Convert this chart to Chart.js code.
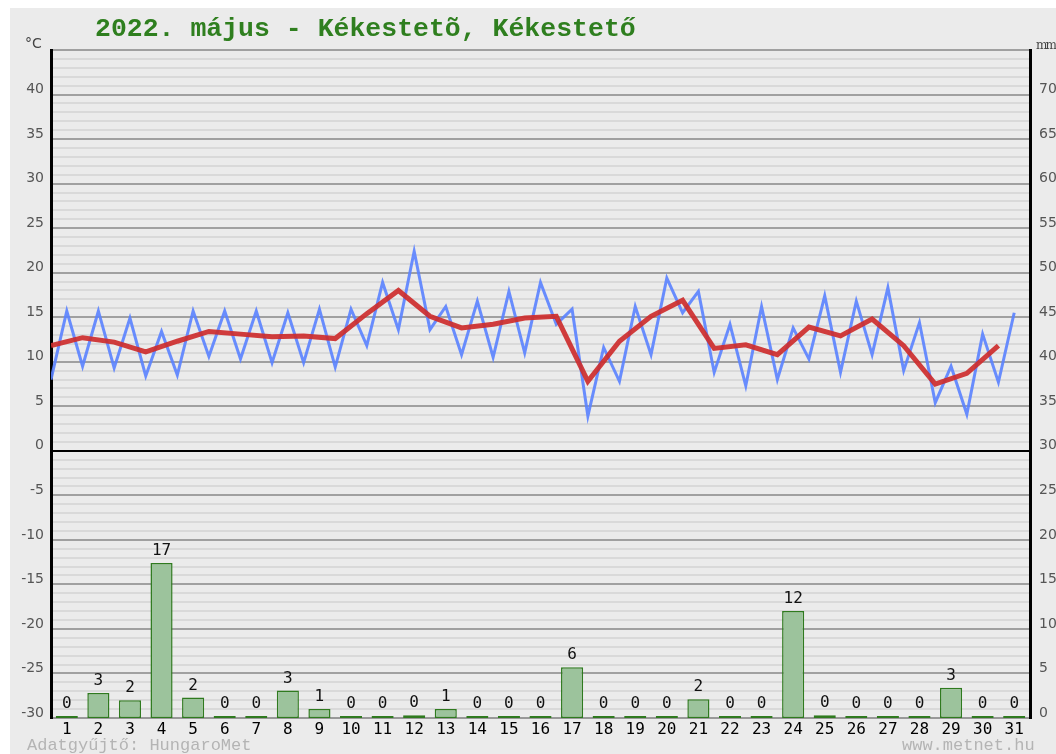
<!DOCTYPE html>
<html>
<head>
<meta charset="utf-8">
<script src="https://cdn.jsdelivr.net/npm/chart.js@4"></script>
<style>
  body { margin: 0; background: #fff; }
  #wrap { position: relative; width: 1056px; height: 754px; overflow: hidden; }
  #bg { position: absolute; left: 10px; top: 8px; right: 0; bottom: 0; background: #ebebeb; }
  #chart { position: absolute; left: 0; top: 0; }
  .txt { position: absolute; white-space: nowrap; }
  #title { left: 95px; top: 16px; font: bold 26.5px "Liberation Mono", monospace; color: #2f7f1f; line-height: 26px; }
  #unitC { left: 25px; top: 35px; font: 14px "DejaVu Sans", sans-serif; color: #444; }
  #unitMm { left: 1036px; top: 38px; font: 12px "DejaVu Serif", serif; color: #444; letter-spacing: -2px; }
  #src { left: 27px; top: 736px; font: 17px "Liberation Mono", monospace; color: #b4b4b4; }
  #web { left: 902px; top: 736px; font: 17px "Liberation Mono", monospace; color: #b4b4b4; }
</style>
</head>
<body>
<div id="wrap">
  <div id="bg"></div>
  <canvas id="chart" width="1056" height="754"></canvas>
  <div class="txt" id="title">2022. május - Kékestetõ, Kékestető</div>
  <div class="txt" id="unitC">°C</div>
  <div class="txt" id="unitMm">mm</div>
  <div class="txt" id="src">Adatgyűjtő: HungaroMet</div>
  <div class="txt" id="web">www.metnet.hu</div>
</div>
<script>
// days of the month
const days = ['1','2','3','4','5','6','7','8','9','10','11','12','13','14','15','16',
  '17','18','19','20','21','22','23','24','25','26','27','28','29','30','31'];

// daily minimum (drawn at start of day) and maximum (drawn at mid day), °C
const tMin = [8.0, 9.5, 9.3, 8.4, 8.5, 10.6, 10.3, 9.9, 9.9, 9.4, 11.8, 13.6, 13.6, 10.8, 10.5, 11.0,
  14.2, 3.9, 7.8, 10.8, 15.5, 8.8, 7.3, 8.0, 10.3, 8.8, 10.8, 9.0, 5.4, 4.1, 7.7];
const tMax = [15.7, 15.7, 14.9, 13.4, 15.7, 15.7, 15.7, 15.5, 15.9, 15.9, 18.9, 22.4, 16.2, 16.8, 17.9, 18.9,
  15.9, 11.6, 16.2, 19.4, 17.9, 14.2, 16.2, 13.8, 17.4, 16.8, 18.3, 14.4, 9.5, 13.1, 15.5];

// daily mean temperature, °C
const tAvg = [11.8, 12.7, 12.2, 11.1, 12.3, 13.4, 13.1, 12.8, 12.9, 12.6, 15.4, 18.0, 15.1, 13.8, 14.2, 14.9,
  15.1, 7.8, 12.3, 15.1, 16.9, 11.5, 11.9, 10.8, 13.9, 12.9, 14.8, 11.8, 7.5, 8.7, 11.8];

// daily precipitation, mm
const rain = [0, 2.8, 2.0, 17.4, 2.3, 0, 0, 3.1, 1.0, 0, 0, 0.3, 1.0, 0, 0, 0,
  5.7, 0, 0, 0, 2.1, 0, 0, 12.0, 0.3, 0, 0, 0, 3.4, 0, 0];

// Step 1: points on one linear x axis (day i spans i..i+1)
var minMaxPoints = [];
for (let i = 0; i < days.length; i++) {
  minMaxPoints.push({ x: i, y: tMin[i] });
  minMaxPoints.push({ x: i + 0.5, y: tMax[i] });
}
var avgPoints = tAvg.map((v, i) => ({ x: i, y: v }));
var rainPoints = rain.map((v, i) => ({ x: i + 0.5, y: v }));

// Step 2: value labels above the bars
const barLabels = {
  id: 'barLabels',
  afterDatasetsDraw(chart) {
    const ctx = chart.ctx;
    const meta = chart.getDatasetMeta(2);
    ctx.save();
    ctx.font = '16px "DejaVu Sans Mono", monospace';
    ctx.fillStyle = '#111';
    ctx.textAlign = 'center';
    ctx.textBaseline = 'bottom';
    meta.data.forEach((bar, i) => {
      ctx.fillText(String(Math.round(rain[i])), bar.x, Math.min(bar.y, bar.base) - 4);
    });
    ctx.restore();
  }
};

// Step 3: chart
var ctx = document.getElementById('chart').getContext('2d');
var myChart = new Chart(ctx, {
  type: 'line',
  data: {
    datasets: [
      {
        type: 'line',
        data: avgPoints,
        yAxisID: 'y',
        borderColor: 'rgba(205, 45, 45, 0.92)',
        borderWidth: 5,
        pointRadius: 0,
        tension: 0,
        order: 1
      },
      {
        type: 'line',
        data: minMaxPoints,
        yAxisID: 'y',
        borderColor: 'rgba(90, 130, 255, 0.9)',
        borderWidth: 3,
        pointRadius: 0,
        tension: 0,
        order: 2
      },
      {
        type: 'bar',
        data: rainPoints,
        yAxisID: 'y2',
        backgroundColor: '#9cc39c',
        borderColor: '#2f7a1f',
        borderWidth: 1.5,
        borderSkipped: false,
        minBarLength: 2,
        barPercentage: 0.7,
        categoryPercentage: 1,
        order: 3
      }
    ]
  },
  options: {
    responsive: false,
    animation: false,
    layout: { padding: { top: 50, left: 0, right: 0, bottom: 0 } },
    plugins: {
      legend: { display: false },
      tooltip: { enabled: false }
    },
    scales: {
      x: {
        type: 'linear',
        min: 0,
        max: 31,
        offset: false,
        grid: { display: false, drawTicks: false, tickLength: 0 },
        border: { display: true, color: '#999', width: 2 },
        afterBuildTicks(axis) { axis.ticks = days.map((d, i) => ({ value: i + 0.5 })); },
        ticks: {
          color: '#000',
          font: { family: 'DejaVu Sans Mono', size: 16 },
          padding: 2,
          maxRotation: 0,
          autoSkip: false,
          callback: v => days[Math.round(v - 0.5)]
        },
        afterFit(axis) { axis.height = 36; }
      },
      y: {
        position: 'left',
        min: -30,
        max: 45,
        grid: {
          drawTicks: false,
          color: c => c.tick.value === 0 ? '#000' : (c.tick.value % 5 === 0 ? '#a0a0a0' : '#d9d9d9'),
          lineWidth: 2
        },
        border: { display: true, color: '#000', width: 3 },
        ticks: {
          stepSize: 1,
          autoSkip: false,
          padding: 7,
          labelOffset: -5,
          color: '#555',
          font: { family: 'DejaVu Sans', size: 14 },
          callback: v => (v % 5 === 0 && v < 45) ? v : ''
        },
        afterFit(axis) { axis.width = 51; }
      },
      y2: {
        position: 'right',
        min: 0,
        max: 75,
        grid: { display: false, drawTicks: false },
        border: { display: true, color: '#000', width: 3 },
        ticks: {
          stepSize: 5,
          padding: 9,
          labelOffset: -5,
          color: '#555',
          font: { family: 'DejaVu Sans', size: 14 },
          callback: v => v < 75 ? v : ''
        },
        afterFit(axis) { axis.width = 26; }
      }
    }
  },
  plugins: [barLabels]
});
</script>
</body>
</html>
